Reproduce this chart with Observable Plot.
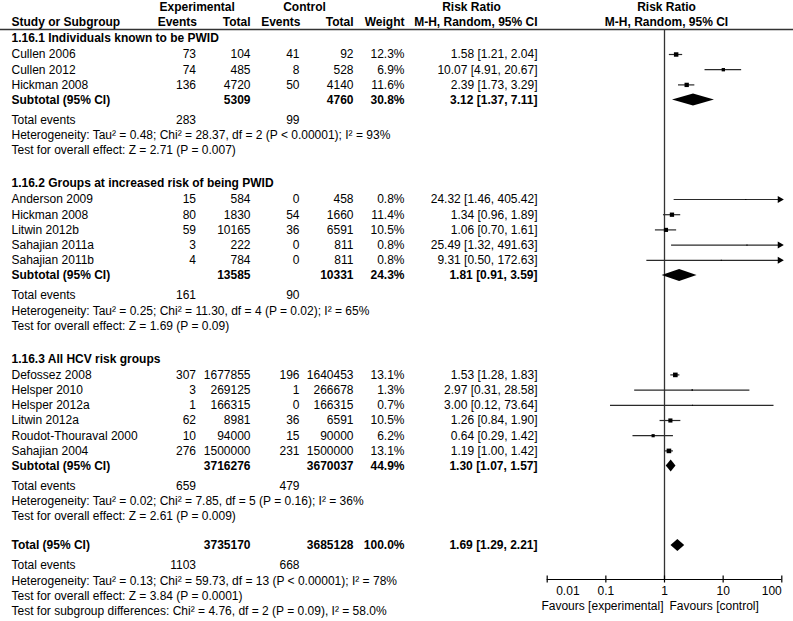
<!DOCTYPE html>
<html><head><meta charset="utf-8">
<script src="https://cdn.jsdelivr.net/npm/d3@7"></script>
<script src="https://cdn.jsdelivr.net/npm/@observablehq/plot@0.6"></script>
<style>
html,body{margin:0;padding:0;background:#fff;}
#chart{width:793px;height:621px;overflow:hidden;}
</style></head><body><div id="chart"></div>
<script>
// ---------- DATA ----------
const groupTitles = ["1.16.1 Individuals known to be PWID", "1.16.2 Groups at increased risk of being PWID", "1.16.3 All HCV risk groups"];
const studyNames = ["Cullen 2006", "Cullen 2012", "Hickman 2008",
  "Anderson 2009", "Hickman 2008", "Litwin 2012b", "Sahajian 2011a", "Sahajian 2011b",
  "Defossez 2008", "Helsper 2010", "Helsper 2012a", "Litwin 2012a", "Roudot-Thouraval 2000", "Sahajian 2004"];
const studyGroup = [0,0,0, 1,1,1,1,1, 2,2,2,2,2,2];
const expEvents = [73,74,136, 15,80,59,3,4, 307,3,1,62,10,276];
const expTotal = [104,485,4720, 584,1830,10165,222,784, 1677855,269125,166315,8981,94000,1500000];
const ctrlEvents = [41,8,50, 0,54,36,0,0, 196,1,0,36,15,231];
const ctrlTotal = [92,528,4140, 458,1660,6591,811,811, 1640453,266678,166315,6591,90000,1500000];
const weights = [12.3,6.9,11.6, 0.8,11.4,10.5,0.8,0.8, 13.1,1.3,0.7,10.5,6.2,13.1];
const rr = [1.58,10.07,2.39, 24.32,1.34,1.06,25.49,9.31, 1.53,2.97,3.00,1.26,0.64,1.19];
const rrLo = [1.21,4.91,1.73, 1.46,0.96,0.70,1.32,0.50, 1.28,0.31,0.12,0.84,0.29,1.00];
const rrHi = [2.04,20.67,3.29, 405.42,1.89,1.61,491.63,172.63, 1.83,28.58,73.64,1.90,1.42,1.42];

const subExpTotal = [5309, 13585, 3716276];
const subCtrlTotal = [4760, 10331, 3670037];
const subWeight = [30.8, 24.3, 44.9];
const subRR = [3.12, 1.81, 1.30];
const subLo = [1.37, 0.91, 1.07];
const subHi = [7.11, 3.59, 1.57];
const subExpEvents = [283, 161, 659];
const subCtrlEvents = [99, 90, 479];
const subHet = [
  "Heterogeneity: Tau\u00B2 = 0.48; Chi\u00B2 = 28.37, df = 2 (P < 0.00001); I\u00B2 = 93%",
  "Heterogeneity: Tau\u00B2 = 0.25; Chi\u00B2 = 11.30, df = 4 (P = 0.02); I\u00B2 = 65%",
  "Heterogeneity: Tau\u00B2 = 0.02; Chi\u00B2 = 7.85, df = 5 (P = 0.16); I\u00B2 = 36%"];
const subTest = [
  "Test for overall effect: Z = 2.71 (P = 0.007)",
  "Test for overall effect: Z = 1.69 (P = 0.09)",
  "Test for overall effect: Z = 2.61 (P = 0.009)"];

const overallExpTotal = [3735170];
const overallCtrlTotal = [3685128];
const overallWeight = [100.0];
const overallRR = [1.69];
const overallLo = [1.29];
const overallHi = [2.21];
const overallExpEvents = [1103];
const overallCtrlEvents = [668];
const overallNotes = [
  "Heterogeneity: Tau\u00B2 = 0.13; Chi\u00B2 = 59.73, df = 13 (P < 0.00001); I\u00B2 = 78%",
  "Test for overall effect: Z = 3.84 (P = 0.0001)",
  "Test for subgroup differences: Chi\u00B2 = 4.76, df = 2 (P = 0.09), I\u00B2 = 58.0%"];

const axisTicks = [0.01, 0.1, 1, 10, 100];
const axisTickLabels = ["0.01", "0.1", "1", "10", "100"];
const favoursLabels = ["Favours [experimental]", "Favours [control]"];

// ---------- LAYOUT ----------
const L = {top: 38, pitch: 15.2, headGap: 16, eventsGap: 20, groupGap: 33, totalGap: 29,
  hdr1: 7, hdr2: 22, hdrLine: 29, axisY: 579, tickLabelY: 591, favoursY: 606,
  diamondHalf: 6, tickHalf: 3.5};
const cols = {name: 11, expEv: 195.5, expTot: 250, ctlEv: 299, ctlTot: 353, weight: 404, rr: 537};
const xRange = [546.7, 781.3];
const FONT = "'Liberation Sans', Arial, Helvetica, sans-serif";

const fmtW = w => w.toFixed(1) + "%";
const fmtRR = (e, lo, hi) => `${e.toFixed(2)} [${lo.toFixed(2)}, ${hi.toFixed(2)}]`;

const rows = [];
let y = L.top;
groupTitles.forEach((title, g) => {
  rows.push({y, name: title, bold: true});
  y += L.headGap;
  const idx = studyNames.map((_, i) => i).filter(i => studyGroup[i] === g);
  idx.forEach((i, k) => {
    if (k > 0) y += L.pitch;
    rows.push({y, kind: "study", name: studyNames[i], expEv: expEvents[i], expTot: expTotal[i],
      ctlEv: ctrlEvents[i], ctlTot: ctrlTotal[i], weight: fmtW(weights[i]),
      rrText: fmtRR(rr[i], rrLo[i], rrHi[i]), est: rr[i], lo: rrLo[i], hi: rrHi[i], w: weights[i]});
  });
  y += L.pitch;
  rows.push({y, kind: "diamond", bold: true, name: "Subtotal (95% CI)", expTot: subExpTotal[g], ctlTot: subCtrlTotal[g],
    weight: fmtW(subWeight[g]), rrText: fmtRR(subRR[g], subLo[g], subHi[g]), est: subRR[g], lo: subLo[g], hi: subHi[g]});
  y += L.eventsGap;
  rows.push({y, name: "Total events", expEv: subExpEvents[g], ctlEv: subCtrlEvents[g]});
  y += L.pitch; rows.push({y, name: subHet[g]});
  y += L.pitch; rows.push({y, name: subTest[g]});
  y += (g < groupTitles.length - 1) ? L.groupGap : L.totalGap;
});
rows.push({y, kind: "diamond", bold: true, name: "Total (95% CI)", expTot: overallExpTotal[0], ctlTot: overallCtrlTotal[0],
  weight: fmtW(overallWeight[0]), rrText: fmtRR(overallRR[0], overallLo[0], overallHi[0]),
  est: overallRR[0], lo: overallLo[0], hi: overallHi[0]});
y += L.eventsGap;
rows.push({y, name: "Total events", expEv: overallExpEvents[0], ctlEv: overallCtrlEvents[0]});
overallNotes.forEach(t => { y += L.pitch; rows.push({y, name: t}); });

const studies = rows.filter(d => d.kind === "study");
const diamonds = rows.filter(d => d.kind === "diamond");
const diamondPts = diamonds.flatMap((d, i) => [
  {id: i, x: d.lo, y1: d.y, y2: d.y},
  {id: i, x: d.est, y1: d.y - L.diamondHalf, y2: d.y + L.diamondHalf},
  {id: i, x: d.hi, y1: d.y, y2: d.y}]);

const [xMin, xMax] = [axisTicks[0], axisTicks[axisTicks.length - 1]];

function col(field, pos, anchor, bold) {
  return Plot.text(rows.filter(d => d[field] != null && !!d.bold === bold), {
    y: "y", text: d => String(d[field]), frameAnchor: "left", dx: pos,
    textAnchor: anchor, fontWeight: bold ? "bold" : "normal", fontSize: 12
  });
}
const tableMarks = [];
for (const b of [false, true]) {
  tableMarks.push(
    col("name", cols.name, "start", b),
    col("expEv", cols.expEv, "end", b),
    col("expTot", cols.expTot, "end", b),
    col("ctlEv", cols.ctlEv, "end", b),
    col("ctlTot", cols.ctlTot, "end", b),
    col("weight", cols.weight, "end", b),
    col("rrText", cols.rr, "end", b));
}

function hdr(list, anchor) {
  return Plot.text(list, {y: "y", text: "t", frameAnchor: "left", dx: list[0].pos, textAnchor: anchor, fontWeight: "bold", fontSize: 12});
}
const headerMarks = [
  hdr([{t: "Experimental", y: L.hdr1, pos: 196.7}], "middle"),
  hdr([{t: "Control", y: L.hdr1, pos: 304}], "middle"),
  hdr([{t: "Risk Ratio", y: L.hdr1, pos: 471}], "middle"),
  hdr([{t: "Study or Subgroup", y: L.hdr2, pos: cols.name}], "start"),
  hdr([{t: "Events", y: L.hdr2, pos: cols.expEv + 1}], "end"),
  hdr([{t: "Total", y: L.hdr2, pos: cols.expTot}], "end"),
  hdr([{t: "Events", y: L.hdr2, pos: cols.ctlEv + 1}], "end"),
  hdr([{t: "Total", y: L.hdr2, pos: cols.ctlTot}], "end"),
  hdr([{t: "Weight", y: L.hdr2, pos: cols.weight}], "end"),
  hdr([{t: "M-H, Random, 95% CI", y: L.hdr2, pos: cols.rr}], "end"),
  Plot.text([{t: "Risk Ratio", y: L.hdr1}, {t: "M-H, Random, 95% CI", y: L.hdr2}],
    {x: () => 1, y: "y", text: "t", dx: 2, textAnchor: "middle", fontWeight: "bold", fontSize: 12})
];

const tickData = axisTicks.map((t, i) => ({t, label: axisTickLabels[i], i}));
const n = tickData.length;

const chart = Plot.plot({
  width: 793, height: 621, margin: 0,
  x: {type: "log", domain: [xMin, xMax], range: xRange, axis: null},
  y: {type: "linear", domain: [0, 621], range: [0, 621], axis: null},
  r: {type: "sqrt", domain: [0, 13.1], range: [0, 2.6]},
  style: {fontFamily: FONT, fontSize: "12px", color: "#000", background: "#fff"},
  marks: [
    // header line and null line
    Plot.ruleY([L.hdrLine], {stroke: "#333", strokeWidth: 1.5}),
    Plot.ruleX([1], {y1: L.hdrLine, y2: L.axisY, stroke: "#333", strokeWidth: 1.3}),
    // axis
    Plot.ruleY([L.axisY], {x1: () => xMin, x2: () => xMax, stroke: "#000", strokeWidth: 1.2}),
    Plot.ruleX(axisTicks, {y1: L.axisY - L.tickHalf, y2: L.axisY + L.tickHalf, stroke: "#000", strokeWidth: 1.2}),
    Plot.text(tickData.filter(d => d.i > 0 && d.i < n - 1), {x: "t", y: () => L.tickLabelY, text: "label", fontSize: 12}),
    Plot.text(tickData.filter(d => d.i === 0), {x: "t", y: () => L.tickLabelY, text: "label", textAnchor: "start", dx: 9, fontSize: 12}),
    Plot.text(tickData.filter(d => d.i === n - 1), {x: "t", y: () => L.tickLabelY, text: "label", textAnchor: "end", dx: 0, fontSize: 12}),
    Plot.text([favoursLabels[0]], {x: () => 1, y: () => L.favoursY, text: d => d, textAnchor: "end", dx: -1, fontSize: 12}),
    Plot.text([favoursLabels[1]], {x: () => 1, y: () => L.favoursY, text: d => d, textAnchor: "start", dx: 5, fontSize: 12}),
    // study CIs
    Plot.ruleY(studies, {y: "y", x1: d => Math.max(d.lo, xMin), x2: d => Math.min(d.hi, xMax), stroke: "#2a2a2a", strokeWidth: 1.2}),
    Plot.dot(studies.filter(d => d.hi > xMax), {x: () => xMax, y: "y", symbol: "triangle", r: 2.6, rotate: 90, fill: "#000", stroke: "none", dx: -2}),
    Plot.dot(studies, {x: "est", y: "y", symbol: "square", r: "w", fill: "#000", stroke: "none"}),
    // diamonds
    Plot.areaY(diamondPts, {x: "x", y1: "y1", y2: "y2", z: "id", fill: "#000", curve: "linear"}),
    ...headerMarks,
    ...tableMarks
  ]
});
document.getElementById("chart").appendChild(chart);
</script></body></html>
